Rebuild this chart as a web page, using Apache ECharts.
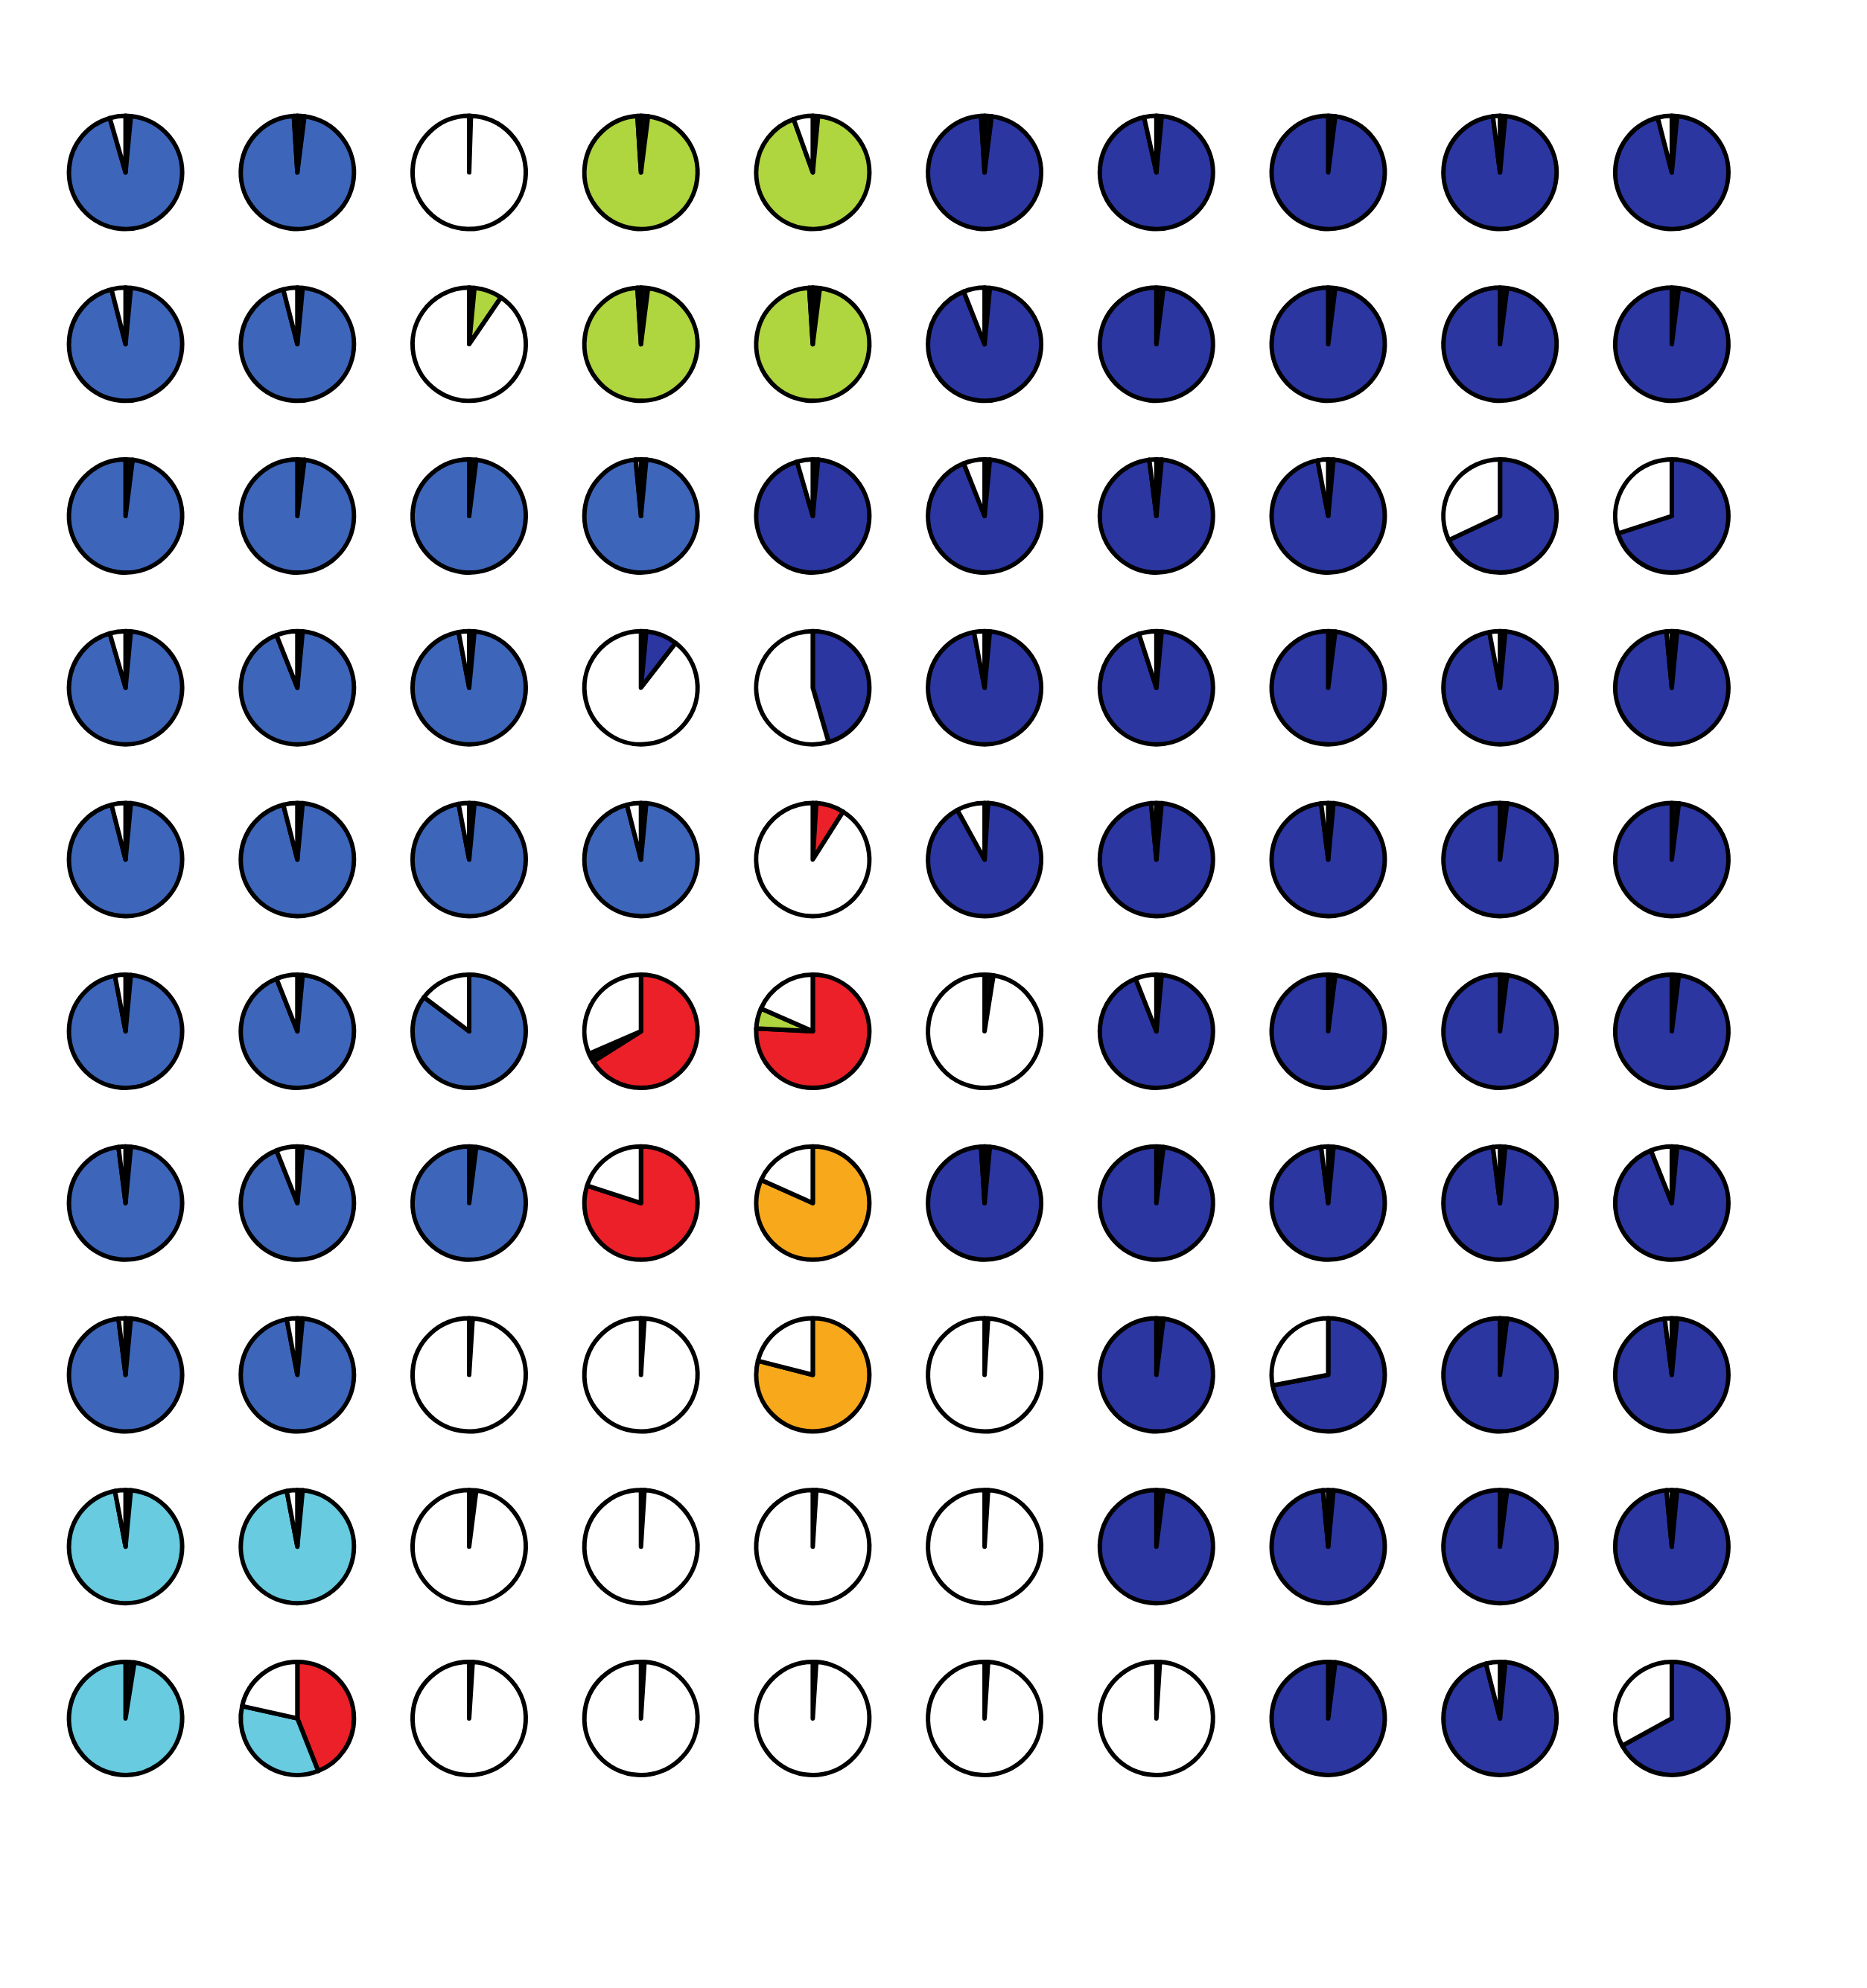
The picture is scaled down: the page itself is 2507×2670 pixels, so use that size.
<!DOCTYPE html>
<html><head><meta charset="utf-8">
<script src="https://cdn.jsdelivr.net/npm/echarts@6/dist/echarts.min.js"></script>
<style>html,body{margin:0;padding:0;background:#fff}#c{width:2507px;height:2670px}</style>
</head><body><div id="c"></div>
<script>
// Slice categories and colours (K = black sliver, W = empty/white)
const categoryColors = {A:'#3d66ba', B:'#2b36a0', G:'#afd53f', R:'#ec2028', O:'#f8a81b', C:'#68cbe0', K:'#050505', W:'#ffffff'};

// Each pie: slices clockwise from 12 o'clock, "<category><percent>"
const row1  = ['K1.5 A94 W4.5','K2 A97 W1','K0.5 W99.5','K2 G97 W1','K1.5 G93 W5.5','K2 B97 W1','K1.5 B95 W3.5','K2 B98','K1.5 B96.5 W2','K1.5 B94.5 W4'];
const row2  = ['K1.5 A94.5 W4','K1.5 A94.5 W4','K1.5 G8 W90.5','K2 G97 W1','K2 G97 W1','K1.5 B92.5 W6','K2 B98','K2 B98','K2 B98','K2 B98'];
const row3  = ['K2 A98','K2 A98','K2 A98','K1.5 A97 W1.5','K1.5 B94 W4.5','K1.5 B92.5 W6','K1.5 B96.5 W2','K1.5 B95.5 W3','B68 W32','B70 W30'];
const row4  = ['K1.5 A94 W4.5','K1.5 A92.5 W6','K1.5 A95.5 W3','K1.5 B9 W89.5','B45.5 W54.5','K1.5 B95.5 W3','K1.5 B93.5 W5','K2 B98','K1.5 B95.5 W3','K1.5 B97 W1.5'];
const row5  = ['K1.5 A94.5 W4','K1.5 A94.5 W4','K1.5 A95.5 W3','K1.5 A94.5 W4','K1 R8 W91','K1 B91 W8','K1.5 B97 W1.5','K1.5 B96.5 W2','K2 B98','K2 B98'];
const row6  = ['K1.5 A95.5 W3','K1.5 A92.5 W6','A85.3 W14.7','R66 K2.5 W31.5','R75.8 G5.8 W18.4','K2.5 W97.5','K1.5 B92.5 W6','K2 B98','K2 B98','K2 B98'];
const row7  = ['K1.5 A96.5 W2','K1.5 A92.5 W6','K2 A98','R80 W20','O81.7 W18.3','K1.5 B97.5 W1','K2 B98','K1.5 B96.5 W2','K1.5 B96.5 W2','K1.5 B92.5 W6'];
const row8  = ['K1.5 A96.5 W2','K1.5 A95.5 W3','K1 W99','K1 W99','O79 W21','K1 W99','K2 B98','B72 W28','K2 B98','K1.5 B96.5 W2'];
const row9  = ['K1.5 C95.5 W3','K1.5 C95.5 W3','K2 W98','K1 W99','K1 W99','K1 W99','K2 B98','K1.5 B97 W1.5','K2 B98','K1.5 B97 W1.5'];
const row10 = ['K2.5 C97.5','R44 C34.5 W21.5','K1 W99','K1 W99','K1 W99','K1 W99','K1 W99','K2 B98','K1.5 B94.5 W4','B67 W33'];

const rows = [row1,row2,row3,row4,row5,row6,row7,row8,row9,row10];

const X0 = 168.6, Y0 = 231.6, STEP = 230.7, R = 76;

function parse(spec){
  return spec.split(' ').map(t => ({
    name: t[0],
    value: parseFloat(t.slice(1)),
    itemStyle: {color: categoryColors[t[0]]}
  }));
}

const series = [];
rows.forEach((row, r) => {
  row.forEach((spec, c) => {
    series.push({
      type: 'pie',
      center: [X0 + c*STEP, Y0 + r*STEP],
      radius: R,
      startAngle: 90,
      clockwise: true,
      silent: true,
      minAngle: 0,
      label: {show:false},
      labelLine: {show:false},
      emphasis: {disabled:true},
      itemStyle: {borderColor:'#000', borderWidth:6, borderJoin:'round'},
      data: parse(spec)
    });
  });
});

const chart = echarts.init(document.getElementById('c'), null, {renderer:'canvas'});
chart.setOption({backgroundColor:'#ffffff', animation:false, series});
</script>
</body></html>
